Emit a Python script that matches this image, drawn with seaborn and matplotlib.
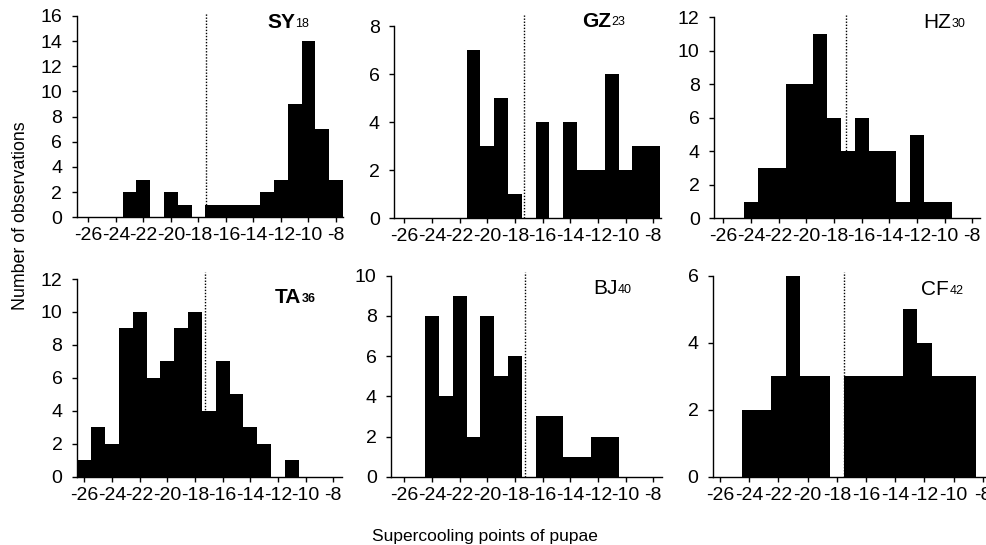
import matplotlib
matplotlib.use("Agg")
import matplotlib.pyplot as plt
import seaborn as sns
import numpy as np

# ---- data (bin centres in deg C and counts) ----
sy_bins = [-23, -22, -21, -20, -19, -18, -17, -16, -15, -14, -13, -12, -11, -10, -9, -8]
sy_counts = [2, 3, 0, 2, 1, 0, 1, 1, 1, 1, 2, 3, 9, 14, 7, 3]

gz_bins = [-21, -20, -19, -18, -17, -16, -15, -14, -13, -12, -11, -10, -9, -8]
gz_counts = [7, 3, 5, 1, 0, 4, 0, 4, 2, 2, 6, 2, 3, 3]

hz_bins = [-24, -23, -22, -21, -20, -19, -18, -17, -16, -15, -14, -13, -12, -11, -10]
hz_counts = [1, 3, 3, 8, 8, 11, 6, 4, 6, 4, 4, 1, 5, 1, 1]

ta_bins = [-26, -25, -24, -23, -22, -21, -20, -19, -18, -17, -16, -15, -14, -13, -12, -11]
ta_counts = [1, 3, 2, 9, 10, 6, 7, 9, 10, 4, 7, 5, 3, 2, 0, 1]

bj_bins = [-24, -23, -22, -21, -20, -19, -18, -17, -16, -15, -14, -13, -12, -11]
bj_counts = [8, 4, 9, 2, 8, 5, 6, 0, 3, 3, 1, 1, 2, 2]

cf_bins = [-24, -23, -22, -21, -20, -19, -18, -17, -16, -15, -14, -13, -12, -11, -10, -9]
cf_counts = [2, 2, 3, 6, 3, 3, 0, 3, 3, 3, 3, 5, 4, 3, 3, 3]

site_names = ["SY", "GZ", "HZ", "TA", "BJ", "CF"]
site_numbers = ["18", "23", "30", "36", "40", "42"]
dotted_x = [-17.45, -17.33, -17.11, -17.26, -17.26, -17.5]
y_tick_max = [16, 8, 12, 12, 10, 6]
x_ticks = [-26, -24, -22, -20, -18, -16, -14, -12, -10, -8]

all_bins = [sy_bins, gz_bins, hz_bins, ta_bins, bj_bins, cf_bins]
all_counts = [sy_counts, gz_counts, hz_counts, ta_counts, bj_counts, cf_counts]

# ---- style ----
sns.set_theme(style="ticks")
plt.rcParams['font.family'] = ['Liberation Sans', 'DejaVu Sans']
plt.rcParams['axes.unicode_minus'] = False

W, H = 986, 545
fig = plt.figure(figsize=(W / 100, H / 100), dpi=100)
renderer = fig.canvas.get_renderer()

# axes boxes in pixels: left, right, top, bottom ; xlim ; ylim top
boxes = [
    (76.6, 343.3, 12.7, 217.3, (-26.85, -7.47), 16.26),
    (394.3, 660.7, 15.0, 218.3, (-26.72, -7.46), 8.46),
    (714.0, 980.0, 15.0, 218.3, (-26.67, -7.44), 12.14),
    (76.7, 341.7, 272.3, 476.7, (-26.55, -7.39), 12.41),
    (391.0, 661.7, 272.3, 476.7, (-26.96, -7.39), 10.17),
    (712.7, 991.6, 272.3, 476.7, (-26.5, -7.4), 6.10),
]

# title positions (pixels): main x, baseline y
title_pos = [
    (267, 28.3),
    (581.7, 26.7),
    (923, 28.3),
    (275, 303.3),
    (593, 294.3),
    (921, 295),
]
title_weight = ["bold", "bold", "normal", "bold", "normal", "normal"]

for i in range(6):
    l, r, t, b, xlim, ytop = boxes[i]
    ax = fig.add_axes([l / W, 1 - b / H, (r - l) / W, (b - t) / H])
    ax.axvline(dotted_x[i], color="black", lw=1.0, linestyle=(0, (1, 1.2)), zorder=1)
    sns.histplot(x=all_bins[i], weights=all_counts[i], discrete=True, color="black",
                 edgecolor="none", linewidth=0, alpha=1, ax=ax, zorder=2)
    ax.set_xlabel("")
    ax.set_ylabel("")
    ax.set_xlim(*xlim)
    ax.set_ylim(0, ytop)
    ax.set_xticks(x_ticks)
    ax.set_xticklabels([str(v) for v in x_ticks])
    yt = list(range(0, y_tick_max[i] + 1, 2))
    ax.set_yticks(yt)
    ax.set_yticklabels([str(v) for v in yt])
    ax.spines['top'].set_visible(False)
    ax.spines['right'].set_visible(False)
    ax.spines['left'].set_bounds(0, y_tick_max[i])
    for s in ('left', 'bottom'):
        ax.spines[s].set_color("black")
        ax.spines[s].set_linewidth(1.0)
    ax.tick_params(axis='x', direction='out', length=3.3, width=1.0, color='black',
                   labelsize=14, pad=4.0, labelcolor='black')
    ax.tick_params(axis='y', direction='out', length=3.3, width=1.0, color='black',
                   labelsize=14, pad=7, labelcolor='black')
    ax.set_facecolor("white")
    ax.patch.set_alpha(0)

    mx, by = title_pos[i]
    tmain = fig.text(mx / W, 1 - by / H, site_names[i], fontsize=15,
                     fontweight=title_weight[i], ha='left', va='baseline', color='black')
    ext = tmain.get_window_extent(renderer=renderer)
    fig.text((ext.x1 + 0.5) / W, 1 - (by - 1.5) / H, site_numbers[i], fontsize=9,
             fontweight=title_weight[i] if i == 3 else 'normal',
             ha='left', va='baseline', color='black')

fig.text(21 / W, 1 - 216 / H, "Number of observations", rotation=90, fontsize=12.8,
         ha='center', va='center', color='black')
fig.text(485 / W, 1 - 541 / H, "Supercooling points of pupae", fontsize=12.5,
         ha='center', va='baseline', color='black')

fig.savefig("out.png", dpi=100, facecolor="white")
